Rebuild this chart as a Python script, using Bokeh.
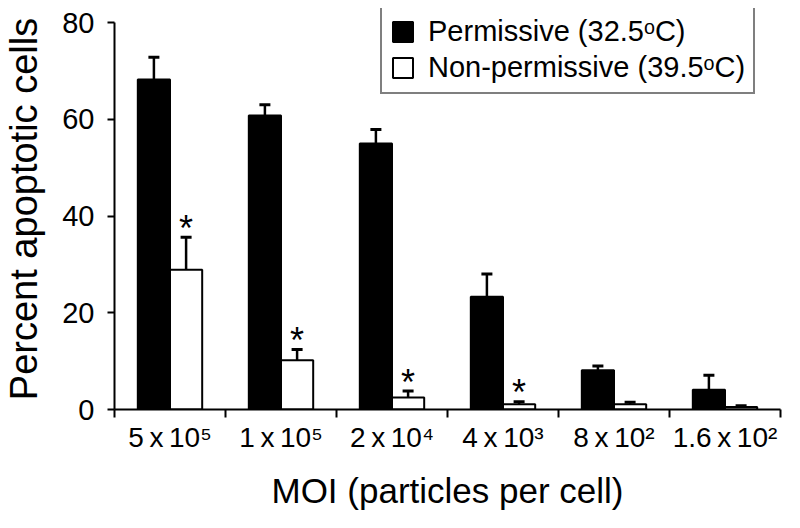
import numpy as np
from bokeh.plotting import figure
from bokeh.models import (Range1d, FixedTicker, ColumnDataSource, Whisker, TeeHead,
                          Legend, LegendItem, LinearAxis)
from bokeh.core.properties import value
from bokeh.embed import file_html
from bokeh.resources import INLINE

# ---- data ----
moi_labels = ["5\u2009x\u200910\u2075", "1\u2009x\u200910\u2075", "2\u2009x\u200910\u2074",
              "4\u2009x\u200910\u00b3", "8\u2009x\u200910\u00b2", "1.6\u2009x\u200910\u00b2"]
permissive = [68.2, 60.8, 55.0, 23.3, 8.1, 4.1]
permissive_err = [4.6, 2.2, 2.9, 4.7, 0.9, 3.0]
nonpermissive = [28.9, 10.2, 2.5, 1.1, 1.1, 0.5]
nonpermissive_err = [6.7, 2.2, 1.3, 0.5, 0.4, 0.3]
significant = [True, True, True, True, False, False]
y_ticks = [0, 20, 40, 60, 80]

FONT = "Liberation Sans"
n = len(moi_labels)
idx = np.arange(n)
centers = idx + 0.5
bw = 0.29
x_perm = centers - bw / 2
x_non = centers + bw / 2

p = figure(width=784, height=512, output_backend="svg", toolbar_location=None,
           x_range=Range1d(0, n), y_range=Range1d(0, 82.9),
           x_axis_location=None, y_axis_location=None,
           min_border_left=110, min_border_right=4, min_border_top=8, min_border_bottom=100)
p.grid.visible = False
p.outline_line_color = None
p.background_fill_color = "white"
p.border_fill_color = "white"

# axes
yaxis = LinearAxis(ticker=FixedTicker(ticks=y_ticks), axis_label="Percent apoptotic cells",
                   bounds=(0, 80))
yaxis.axis_line_width = 2
yaxis.major_tick_line_width = 2
yaxis.major_tick_out = 7
yaxis.major_tick_in = 0
yaxis.minor_tick_line_color = None
yaxis.major_label_standoff = 13
yaxis.major_label_text_font = FONT
yaxis.major_label_text_font_size = "29px"
yaxis.major_label_text_color = "black"
yaxis.axis_label_text_font = FONT
yaxis.axis_label_text_font_size = "38px"
yaxis.axis_label_text_font_style = "normal"
yaxis.axis_label_text_color = "black"
yaxis.axis_label_standoff = 14
p.add_layout(yaxis, "left")

xaxis = LinearAxis(ticker=FixedTicker(ticks=list(centers), minor_ticks=list(range(n + 1))),
                   axis_label="MOI (particles per cell)")
xaxis.major_label_overrides = {float(c): lab for c, lab in zip(centers, moi_labels)}
xaxis.axis_line_width = 2
xaxis.major_tick_line_color = None
xaxis.major_tick_out = 8
xaxis.major_tick_in = 0
xaxis.minor_tick_line_color = "black"
xaxis.minor_tick_line_width = 2
xaxis.minor_tick_out = 8
xaxis.minor_tick_in = 0
xaxis.major_label_standoff = 4
xaxis.major_label_text_font = FONT
xaxis.major_label_text_font_size = "28px"
xaxis.major_label_text_color = "black"
xaxis.axis_label_text_font = FONT
xaxis.axis_label_text_font_size = "35px"
xaxis.axis_label_text_font_style = "normal"
xaxis.axis_label_text_color = "black"
xaxis.axis_label_standoff = 15
p.add_layout(xaxis, "below")

# bars
r_perm = p.vbar(x=x_perm, top=permissive, bottom=0, width=bw,
                fill_color="black", line_color="black", line_width=2)
r_non = p.vbar(x=x_non, top=nonpermissive, bottom=0, width=bw,
               fill_color="white", line_color="black", line_width=2)

# error bars (upper only)
for xs, vals, errs in [(x_perm, permissive, permissive_err), (x_non, nonpermissive, nonpermissive_err)]:
    src = ColumnDataSource(dict(x=xs, lower=vals, upper=np.array(vals) + np.array(errs)))
    w = Whisker(base="x", lower="lower", upper="upper", source=src,
                line_color="black", line_width=2.5,
                upper_head=TeeHead(size=11, line_color="black", line_width=3),
                lower_head=None)
    p.add_layout(w)

# significance asterisks
sig_idx = [i for i in range(n) if significant[i]]
p.text(x=[x_non[i] for i in sig_idx],
       y=[nonpermissive[i] + nonpermissive_err[i] for i in sig_idx],
       text=["*"] * len(sig_idx), text_align="center", text_baseline="alphabetic",
       y_offset=-9, text_font=value(FONT), text_font_size="36px", text_color="black")

legend = Legend(items=[LegendItem(label="Permissive (32.5\u1d52C)", renderers=[r_perm]),
                       LegendItem(label="Non-permissive (39.5\u1d52C)", renderers=[r_non])],
                location=(266, 315))
legend.label_text_font = FONT
legend.label_text_font_size = "29px"
legend.label_text_color = "black"
legend.glyph_width = 25
legend.glyph_height = 25
legend.label_standoff = 13
legend.padding = 8
legend.spacing = 3
legend.margin = 0
legend.border_line_color = "black"
legend.border_line_width = 2
legend.background_fill_alpha = 1
p.add_layout(legend, "center")

open("out.html", "w").write(file_html(p, INLINE))
